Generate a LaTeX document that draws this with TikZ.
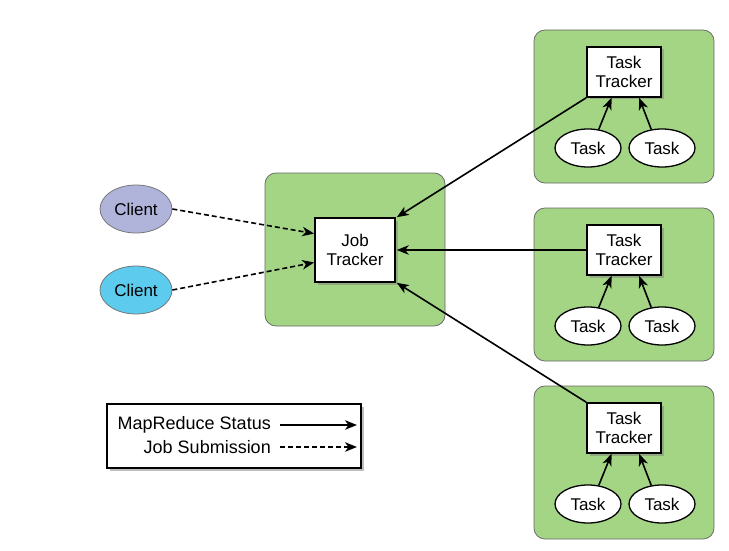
\documentclass[tikz,border=0pt]{standalone}
\usepackage{fontspec}
\setmainfont{Liberation Sans}
\usetikzlibrary{arrows.meta,shadows,calc,shapes.geometric}
\definecolor{nodegreen}{RGB}{164,213,133}
\definecolor{clientblue}{RGB}{176,180,219}
\definecolor{clientcyan}{RGB}{93,203,238}
\tikzset{
  boxshadow/.style={drop shadow={shadow xshift=2.5pt, shadow yshift=-2.5pt, opacity=0.5}},
  greenbox/.style={draw=black!60, line width=0.75, fill=nodegreen, rounded corners=11, minimum width=180, minimum height=153},
  tracker/.style={draw, line width=1.6, fill=white, align=center, inner sep=0, font=\fontsize{17}{19.5}\selectfont, boxshadow},
  tasknode/.style={ellipse, draw, line width=1.3, fill=white, minimum width=66, minimum height=38, inner sep=0, font=\fontsize{17}{19}\selectfont},
  client/.style={ellipse, draw=black!55, line width=0.75, minimum width=72, minimum height=48, inner sep=0, font=\fontsize{17}{19}\selectfont},
  status/.style={line width=1.6, -{Stealth[length=12, width=9.5, inset=3.5]}},
  submit/.style={status, dashed, dash pattern=on 5pt off 3pt},
}
\begin{document}
\begin{tikzpicture}[x=1pt,y=1pt,yscale=-1,xscale=1]
    \useasboundingbox (0,0) rectangle (729,551);
    % green frames
    \node [greenbox] (jtframe) at (355,249.5) {};
    \node [greenbox] (frameA) at (624,106.5) {};
    \node [greenbox] (frameB) at (624,284.5) {};
    \node [greenbox] (frameC) at (624,462.5) {};
    % job tracker
    \node [tracker, minimum width=80, minimum height=64] (jt) at (355,250) {Job\\Tracker};
    % task trackers and their tasks
    \foreach \name/\y in {A/72, B/250, C/428} {
        \node [tracker, minimum width=74, minimum height=50] (tt\name) at (624,\y) {Task\\Tracker};
        \node [tasknode] (left\name) at (588,\y+76) {Task};
        \node [tasknode] (right\name) at (662,\y+76) {Task};
        \draw [status] (left\name.60) -- ($(tt\name.south)!0.33!(tt\name.south west)$);
        \draw [status] (right\name.120) -- ($(tt\name.south)!0.4!(tt\name.south east)$);
    }
    % clients
    \node [client, fill=clientblue] (clientA) at (136,209) {Client};
    \node [client, fill=clientcyan] (clientB) at (136,290) {Client};
    \draw [submit] (clientA.east) -- ($(jt.west)!0.5!(jt.north west)$);
    \draw [submit] (clientB.east) -- ($(jt.west)!0.38!(jt.south west)$);
    % status reports
    \draw [status] (ttA.south west) -- ([xshift=1pt]jt.north east);
    \draw [status] (ttB.west) -- ([xshift=1pt]jt.east);
    \draw [status] (ttC.north west) -- ([xshift=1pt]jt.south east);
    % legend
    \node [draw, line width=1.6, fill=white, minimum width=254, minimum height=64, boxshadow] (legend) at (234,436) {};
    \node [anchor=east, inner sep=0, font=\fontsize{18}{20}\selectfont] (lgstatus) at (271,425) {MapReduce Status};
    \node [anchor=east, inner sep=0, font=\fontsize{18}{20}\selectfont] (lgsubmit) at (271,447) {Job Submission};
    \coordinate (statusend) at (357,425);
    \coordinate (submitend) at (357,447);
    \draw [status] (lgstatus.east) ++(9,0) -- (statusend);
    \draw [submit] (lgsubmit.east) ++(9,0) -- (submitend);
\end{tikzpicture}
\end{document}
